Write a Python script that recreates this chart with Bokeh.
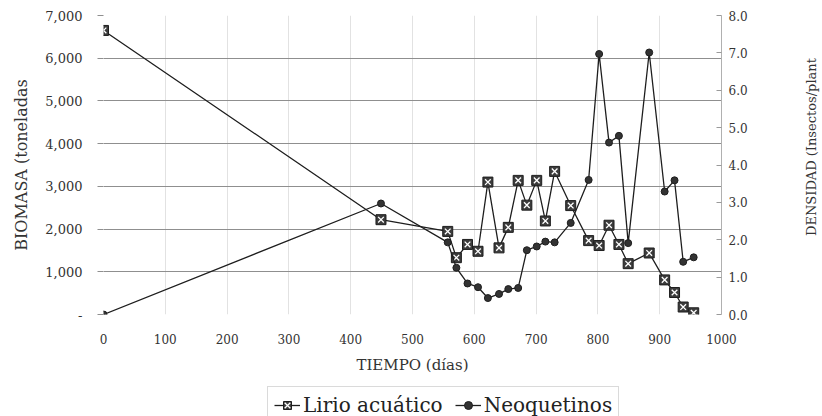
import math
from bokeh.plotting import figure
from bokeh.layouts import column, row
from bokeh.models import (Range1d, LinearAxis, Legend, LegendItem, Label,
                          FixedTicker, NumeralTickFormatter)
from bokeh.embed import file_html
from bokeh.resources import INLINE

# ---- data ----
dias = [0, 449, 557, 571, 589, 606, 622, 640, 655, 671, 685, 701, 715,
        730, 756, 785, 802, 818, 834, 849, 883, 908, 924, 938, 955]
lirio = [6650, 2220, 1945, 1330, 1640, 1480, 3100, 1560, 2040, 3140, 2560,
         3140, 2190, 3350, 2550, 1730, 1615, 2090, 1640, 1190, 1440, 810,
         515, 175, 40]
neoquetinos = [0.0, 2.97, 1.93, 1.25, 0.83, 0.73, 0.44, 0.55, 0.68, 0.71,
               1.72, 1.82, 1.95, 1.93, 2.45, 3.60, 6.97, 4.60, 4.78, 1.91,
               7.01, 3.29, 3.59, 1.41, 1.53]
x_ticks = [0, 100, 200, 300, 400, 500, 600, 700, 800, 900, 1000]
biomasa_ticks = [0, 1000, 2000, 3000, 4000, 5000, 6000, 7000]
densidad_ticks = [0, 1, 2, 3, 4, 5, 6, 7, 8]

SERIF = "DejaVu Serif"
TXT = "#333333"
LINE = "#1e1e1e"

p = figure(width=800, height=376,
           x_range=Range1d(0, 1000), y_range=Range1d(0, 7000),
           output_backend="svg", toolbar_location=None,
           min_border_left=103, min_border_right=79,
           min_border_top=15, min_border_bottom=58)
p.extra_y_ranges = {"dens": Range1d(0, 8)}
p.outline_line_color = None
p.background_fill_color = "white"

# grids
p.ygrid.ticker = FixedTicker(ticks=biomasa_ticks)
p.ygrid.grid_line_color = "#8f8f8f"
p.ygrid.grid_line_width = 1
p.xgrid.ticker = FixedTicker(ticks=x_ticks)
p.xgrid.grid_line_color = "#e2e2e2"
p.xgrid.grid_line_width = 1

# x axis
xa = p.xaxis[0]
xa.ticker = FixedTicker(ticks=x_ticks)
xa.axis_line_color = None
xa.major_tick_line_color = None
xa.minor_tick_line_color = None
xa.major_label_standoff = 13
xa.major_label_text_font = SERIF
xa.major_label_text_font_size = "12px"
xa.major_label_text_color = TXT
xa.axis_label = "TIEMPO (días)"
xa.axis_label_text_font = SERIF
xa.axis_label_text_font_size = "15px"
xa.axis_label_text_font_style = "normal"
xa.axis_label_text_color = TXT
xa.axis_label_standoff = 9

# left axis
ya = p.yaxis[0]
ya.ticker = FixedTicker(ticks=biomasa_ticks)
ya.formatter = NumeralTickFormatter(format="0,0")
ya.major_label_overrides = {0: "-"}
ya.axis_line_color = None
ya.major_tick_line_color = "#8f8f8f"
ya.major_tick_out = 6
ya.major_tick_in = 0
ya.minor_tick_line_color = None
ya.major_label_standoff = 15
ya.major_label_text_font = SERIF
ya.major_label_text_font_size = "13px"
ya.major_label_text_color = TXT
ya.axis_label = "BIOMASA (toneladas"
ya.axis_label_text_font = SERIF
ya.axis_label_text_font_size = "16px"
ya.axis_label_text_font_style = "normal"
ya.axis_label_text_color = TXT
ya.axis_label_standoff = 11

# right axis (ticks only; its title sits in the strip to the right)
ra = LinearAxis(y_range_name="dens", ticker=FixedTicker(ticks=densidad_ticks),
                formatter=NumeralTickFormatter(format="0.0"))
ra.axis_line_color = "#b0b0b0"
ra.major_tick_line_color = "#9a9a9a"
ra.major_tick_in = 5
ra.major_tick_out = 0
ra.minor_tick_line_color = None
ra.major_label_standoff = 7
ra.major_label_text_font = SERIF
ra.major_label_text_font_size = "12px"
ra.major_label_text_color = TXT
p.add_layout(ra, "right")

# series
l1 = p.line(dias, lirio, line_color=LINE, line_width=1.3)
s1 = p.scatter(dias, lirio, marker="square", size=10,
               fill_color="#3c3c3c", line_color=LINE, line_width=1)
x1 = p.scatter(dias, lirio, marker="x", size=8,
               line_color="white", line_width=1.3)

l2 = p.line(dias, neoquetinos, y_range_name="dens",
            line_color=LINE, line_width=1.3)
c2 = p.scatter(dias, neoquetinos, y_range_name="dens", marker="circle",
               size=7, fill_color="#333333", line_color=LINE)

# ---- strip on the right holding the right-axis title (reads bottom-up) ----
pr = figure(width=22, height=376, x_range=Range1d(0, 1), y_range=Range1d(0, 1),
            output_backend="svg", toolbar_location=None, min_border=0)
pr.axis.visible = False
pr.grid.visible = False
pr.outline_line_color = None
pr.add_layout(Label(x=0.5, y=0.5, text="DENSIDAD (Insectos/plant",
                    angle=math.pi / 2, text_align="center",
                    text_baseline="middle", text_font=SERIF,
                    text_font_size="13px", text_color=TXT, y_offset=18))

# ---- legend strip (separate figure below the chart) ----
pl = figure(width=822, height=40, x_range=Range1d(0, 1), y_range=Range1d(0, 1),
            output_backend="svg", toolbar_location=None,
            min_border_left=103, min_border_right=101,
            min_border_top=0, min_border_bottom=0)
pl.axis.visible = False
pl.grid.visible = False
pl.outline_line_color = None
ll1 = pl.line(dias, lirio, line_color=LINE, line_width=1.3, visible=False)
ls1 = pl.scatter(dias, lirio, marker="square", size=10, fill_color="#3c3c3c",
                 line_color=LINE, line_width=1, visible=False)
lx1 = pl.scatter(dias, lirio, marker="x", size=8, line_color="white",
                 line_width=1.3, visible=False)
ll2 = pl.line(dias, neoquetinos, line_color=LINE, line_width=1.3, visible=False)
lc2 = pl.scatter(dias, neoquetinos, marker="circle", size=7,
                 fill_color="#333333", line_color=LINE, visible=False)

legend = Legend(items=[LegendItem(label="Lirio acuático", renderers=[ll1, ls1, lx1]),
                       LegendItem(label="Neoquetinos", renderers=[ll2, lc2])],
                orientation="horizontal", location=(164, -8),
                label_text_font=SERIF, label_text_font_size="20px",
                label_text_color="#222222",
                glyph_width=26, glyph_height=20, label_standoff=3,
                spacing=12, padding=6, margin=0,
                border_line_color="#b5b5b5", border_line_width=1,
                background_fill_color="white", background_fill_alpha=1,
                inactive_fill_alpha=0)
pl.add_layout(legend, "center")

layout = column(row(p, pr, spacing=0), pl, spacing=0)
open("out.html", "w").write(file_html(layout, INLINE))
